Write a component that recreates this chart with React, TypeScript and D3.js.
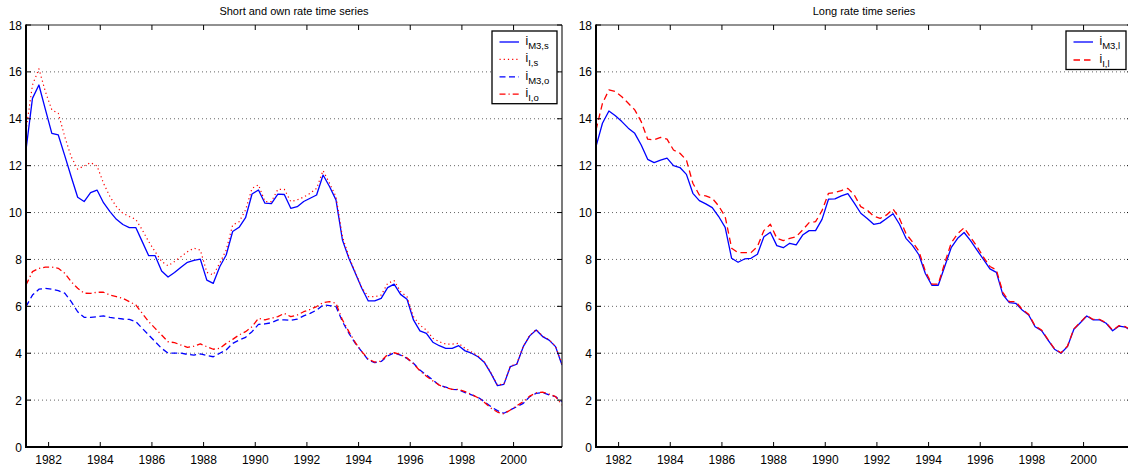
import React from "react";
import * as d3 from "d3";

// Quarterly observations, 1981 Q1 .. 2001 Q4 (plotted at mid-quarter)
const firstQuarter = 1981.125;
const quarterStep = 0.25;

const iM3s = [12.67, 14.87, 15.44, 14.4, 13.38, 13.31, 12.43, 11.53, 10.65, 10.47, 10.85, 10.96, 10.42, 10.04, 9.71, 9.49, 9.36, 9.36, 8.76, 8.16, 8.16, 7.51, 7.25, 7.44, 7.67, 7.88, 7.96, 8.01, 7.12, 6.98, 7.69, 8.19, 9.19, 9.37, 9.78, 10.79, 10.96, 10.4, 10.38, 10.79, 10.77, 10.18, 10.25, 10.47, 10.61, 10.75, 11.6, 11.11, 10.54, 8.83, 8.05, 7.41, 6.77, 6.23, 6.23, 6.34, 6.8, 6.95, 6.51, 6.3, 5.42, 4.95, 4.85, 4.47, 4.32, 4.21, 4.21, 4.32, 4.1, 4.0, 3.85, 3.6, 3.14, 2.62, 2.67, 3.43, 3.53, 4.28, 4.74, 4.99, 4.71, 4.56, 4.28, 3.5];
const iIs = [13.5, 15.44, 16.13, 15.16, 14.38, 14.23, 13.24, 12.38, 11.85, 11.99, 12.13, 11.99, 11.25, 10.68, 10.25, 9.97, 9.83, 9.71, 9.26, 8.76, 8.33, 7.91, 7.73, 7.91, 8.12, 8.33, 8.48, 8.4, 7.45, 7.34, 7.84, 8.4, 9.47, 9.61, 10.11, 11.03, 11.18, 10.47, 10.47, 10.99, 10.99, 10.47, 10.54, 10.66, 10.82, 11.03, 11.79, 11.25, 10.68, 8.97, 8.12, 7.45, 6.8, 6.41, 6.41, 6.48, 6.98, 7.1, 6.63, 6.41, 5.56, 5.2, 4.99, 4.64, 4.49, 4.39, 4.39, 4.42, 4.21, 4.05, 3.88, 3.62, 3.16, 2.64, 2.69, 3.45, 3.55, 4.3, 4.76, 5.01, 4.73, 4.58, 4.3, 3.52];
const iM3o = [5.99, 6.48, 6.73, 6.77, 6.73, 6.67, 6.56, 6.2, 5.77, 5.53, 5.53, 5.56, 5.59, 5.53, 5.49, 5.46, 5.44, 5.35, 5.06, 4.78, 4.49, 4.21, 4.0, 4.0, 4.0, 3.95, 3.92, 3.97, 3.9, 3.85, 4.0, 4.14, 4.42, 4.56, 4.68, 4.92, 5.23, 5.25, 5.3, 5.42, 5.42, 5.4, 5.45, 5.59, 5.7, 5.84, 6.06, 6.03, 5.99, 5.35, 4.85, 4.42, 4.07, 3.71, 3.6, 3.65, 3.88, 4.02, 3.92, 3.78, 3.57, 3.28, 3.07, 2.86, 2.64, 2.55, 2.46, 2.44, 2.32, 2.22, 2.12, 1.93, 1.72, 1.55, 1.44, 1.58, 1.72, 1.86, 2.15, 2.29, 2.32, 2.22, 2.15, 1.93];
const iIo = [6.91, 7.48, 7.62, 7.67, 7.67, 7.62, 7.41, 7.05, 6.77, 6.56, 6.55, 6.6, 6.6, 6.48, 6.41, 6.34, 6.2, 6.06, 5.7, 5.35, 5.06, 4.78, 4.49, 4.45, 4.35, 4.25, 4.3, 4.4, 4.28, 4.17, 4.21, 4.42, 4.59, 4.78, 4.92, 5.13, 5.49, 5.42, 5.49, 5.56, 5.7, 5.56, 5.63, 5.77, 5.87, 5.99, 6.16, 6.2, 6.13, 5.42, 4.92, 4.45, 4.07, 3.75, 3.62, 3.66, 3.95, 4.02, 3.95, 3.8, 3.55, 3.25, 3.02, 2.82, 2.64, 2.53, 2.46, 2.46, 2.36, 2.24, 2.1, 1.9, 1.66, 1.49, 1.41, 1.58, 1.76, 1.93, 2.17, 2.31, 2.34, 2.26, 2.15, 1.79];
const iM3l = [12.81, 13.81, 14.33, 14.13, 13.88, 13.6, 13.38, 12.88, 12.27, 12.13, 12.24, 12.32, 12.0, 11.92, 11.63, 10.82, 10.51, 10.37, 10.21, 9.83, 9.37, 8.05, 7.88, 8.02, 8.05, 8.22, 8.97, 9.16, 8.59, 8.5, 8.69, 8.62, 9.04, 9.23, 9.23, 9.71, 10.57, 10.58, 10.71, 10.81, 10.4, 9.97, 9.75, 9.5, 9.55, 9.75, 9.95, 9.5, 8.9, 8.6, 8.2, 7.4, 6.9, 6.9, 7.7, 8.5, 8.9, 9.15, 8.8, 8.4, 8.0, 7.6, 7.45, 6.5, 6.16, 6.13, 5.84, 5.63, 5.13, 4.96, 4.56, 4.17, 4.0, 4.28, 5.02, 5.3, 5.59, 5.42, 5.42, 5.28, 4.96, 5.16, 5.11, 4.95];
const iIl = [13.52, 14.66, 15.23, 15.16, 14.94, 14.66, 14.38, 13.88, 13.13, 13.1, 13.21, 13.13, 12.67, 12.53, 12.24, 11.25, 10.75, 10.71, 10.61, 10.28, 9.83, 8.48, 8.29, 8.29, 8.29, 8.55, 9.23, 9.5, 8.9, 8.8, 8.9, 8.97, 9.26, 9.57, 9.61, 10.08, 10.82, 10.85, 10.94, 11.03, 10.75, 10.25, 10.1, 9.85, 9.75, 9.9, 10.15, 9.75, 9.1, 8.75, 8.35, 7.5, 6.95, 6.95, 7.85, 8.7, 9.1, 9.35, 8.95, 8.55, 8.1, 7.7, 7.55, 6.6, 6.2, 6.2, 5.87, 5.66, 5.16, 4.99, 4.58, 4.19, 4.02, 4.3, 5.04, 5.32, 5.61, 5.44, 5.44, 5.3, 4.98, 5.18, 5.13, 4.97];

const xTicks = [1982, 1984, 1986, 1988, 1990, 1992, 1994, 1996, 1998, 2000];
const yTicks = [0, 2, 4, 6, 8, 10, 12, 14, 16, 18];
const xDomain = [1981.125, 2001.875];
const yDomain = [0, 18];

type Series = { base: string; sub: string; values: number[]; color: string; dash: string; width: number };

const leftSeries: Series[] = [
  { base: "i", sub: "M3,s", values: iM3s, color: "#0000ff", dash: "", width: 1.3 },
  { base: "i", sub: "I,s", values: iIs, color: "#ff0000", dash: "1.2,3", width: 1.2 },
  { base: "i", sub: "M3,o", values: iM3o, color: "#0000ff", dash: "6,3.5", width: 1.3 },
  { base: "i", sub: "I,o", values: iIo, color: "#ff0000", dash: "6,3,1.2,3", width: 1.3 },
];
const rightSeries: Series[] = [
  { base: "i", sub: "M3,l", values: iM3l, color: "#0000ff", dash: "", width: 1.3 },
  { base: "i", sub: "I,l", values: iIl, color: "#ff0000", dash: "6.5,4", width: 1.3 },
];

const FONT = "Liberation Sans, Arial, Helvetica, sans-serif";

function Panel(props: {
  id: string; left: number; width: number; top: number; height: number;
  title: string; series: Series[]; legendX: number; legendW: number; legendStep: number;
}) {
  const { id, left, width, top, height, title, series, legendX, legendW, legendStep } = props;
  const x = d3.scaleLinear().domain(xDomain).range([left, left + width]);
  const y = d3.scaleLinear().domain(yDomain).range([top + height, top]);
  const line = d3.line<number>()
    .x((_, i) => x(firstQuarter + quarterStep * i))
    .y((v) => y(v));
  const right = left + width;
  const bottom = top + height;
  const legendTop = 31;
  const legendH = 11 + legendStep * (series.length - 1) + 9.5;
  return (
    <g>
      <defs>
        <clipPath id={id}>
          <rect x={left} y={top} width={width} height={height} />
        </clipPath>
      </defs>
      <text x={left + width / 2} y={15} textAnchor="middle" fontSize={11} fontFamily={FONT} fill="#000">{title}</text>
      {yTicks.filter((t) => t > 0 && t < 18).map((t) => (
        <line key={"g" + t} x1={left} x2={right} y1={y(t)} y2={y(t)} stroke="#666" strokeWidth={1} strokeDasharray="1,3" />
      ))}
      <g clipPath={`url(#${id})`}>
        {series.map((s, i) => (
          <path key={i} d={line(s.values) || ""} fill="none" stroke={s.color} strokeWidth={s.width}
            strokeDasharray={s.dash || undefined} strokeLinejoin="round" />
        ))}
      </g>
      {/* axes box */}
      <line x1={left} x2={right} y1={top} y2={top} stroke="#222" strokeWidth={1} />
      <line x1={right} x2={right} y1={top} y2={bottom} stroke="#222" strokeWidth={1.2} />
      <line x1={left} x2={left} y1={top - 0.5} y2={bottom + 1} stroke="#000" strokeWidth={2} />
      <line x1={left - 1} x2={right} y1={bottom} y2={bottom} stroke="#000" strokeWidth={2} />
      {xTicks.map((t) => (
        <g key={"x" + t}>
          <line x1={x(t)} x2={x(t)} y1={bottom} y2={bottom - 5} stroke="#000" strokeWidth={1} />
          <line x1={x(t)} x2={x(t)} y1={top} y2={top + 5} stroke="#000" strokeWidth={1} />
          <text x={x(t)} y={bottom + 17} textAnchor="middle" fontSize={12} fontFamily={FONT} fill="#000">{t}</text>
        </g>
      ))}
      {yTicks.map((t) => (
        <g key={"y" + t}>
          <line x1={left} x2={left + 5} y1={y(t)} y2={y(t)} stroke="#000" strokeWidth={1} />
          <line x1={right} x2={right - 5} y1={y(t)} y2={y(t)} stroke="#000" strokeWidth={1} />
          <text x={left - 4} y={y(t) + 4.5} textAnchor="end" fontSize={12} fontFamily={FONT} fill="#000">{t}</text>
        </g>
      ))}
      {/* legend */}
      <rect x={legendX} y={legendTop} width={legendW} height={legendH} fill="#fff" stroke="#000" strokeWidth={1.3} />
      {series.map((s, i) => {
        const ly = legendTop + 11 + i * legendStep;
        return (
          <g key={"l" + i}>
            <line x1={legendX + 7.5} x2={legendX + 27} y1={ly} y2={ly} stroke={s.color} strokeWidth={s.width}
              strokeDasharray={s.dash || undefined} />
            <text x={legendX + 33.5} y={ly + 3} fontSize={12} fontFamily={FONT} fill="#000">
              {s.base}
              <tspan fontSize={9.5} dy={4}>{s.sub}</tspan>
            </text>
          </g>
        );
      })}
    </g>
  );
}

export default function App() {
  return (
    <svg width={1128} height={470} style={{ position: "absolute", left: 0, top: 0, background: "#fff" }}>
      <rect x={0} y={0} width={1128} height={470} fill="#fff" />
      <Panel id="clipL" left={26} width={536} top={25} height={422} title="Short and own rate time series"
        series={leftSeries} legendX={492} legendW={65} legendStep={17.4} />
      <Panel id="clipR" left={596} width={536} top={25} height={422} title="Long rate time series"
        series={rightSeries} legendX={1066} legendW={60} legendStep={18} />
    </svg>
  );
}
